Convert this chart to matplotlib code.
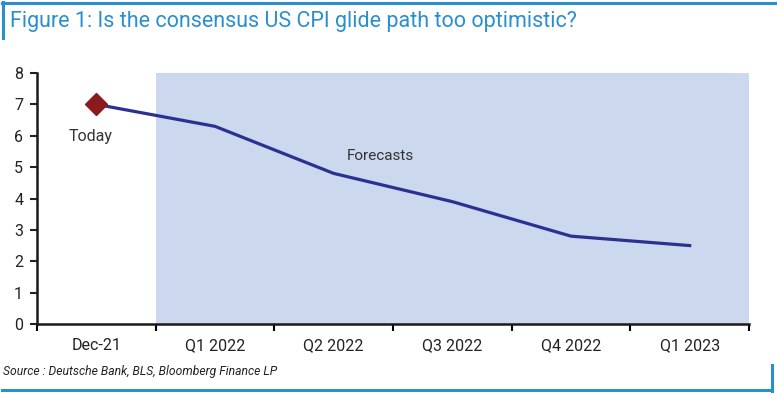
import matplotlib.pyplot as plt
import numpy as np
from matplotlib.lines import Line2D

# Chart data.
categories = ["Dec-21", "Q1 2022", "Q2 2022", "Q3 2022", "Q4 2022", "Q1 2023"]
cpi_path = [7.0, 6.3, 4.8, 3.9, 2.8, 2.5]
y_ticks = [0, 1, 2, 3, 4, 5, 6, 7, 8]

title = "Figure 1: Is the consensus US CPI glide path too optimistic?"
source = "Source : Deutsche Bank, BLS, Bloomberg Finance LP"

blue_frame = "#2a8fcf"
line_col = "#2b3190"
diamond_col = "#8b1a1f"
shade_col = "#cbd8ee"

plt.rcParams['font.family'] = ['Roboto', 'DejaVu Sans']

fig = plt.figure(figsize=(7.77, 3.95), dpi=100)
ax = fig.add_axes([0.0476, 0.1797, 0.9164, 0.6355])

x = np.arange(len(categories))

# Forecast shading from the first forecast boundary to the end.
ax.axvspan(0.5, len(categories) - 0.5, color=shade_col, lw=0, zorder=0)

ax.plot(x, cpi_path, color=line_col, lw=2.3, zorder=2)
ax.plot(x[0], cpi_path[0], marker='D', color=diamond_col, markersize=11,
        zorder=3, lw=0)

ax.text(-0.05, 5.97, "Today", ha='center', va='center', fontsize=11.5,
        color='#333333')
ax.text(2.39, 5.35, "Forecasts", ha='center', va='center', fontsize=11,
        color='#333333')

ax.set_xlim(-0.5, len(categories) - 0.5)
ax.set_ylim(0, 8)
ax.set_yticks(y_ticks)
ax.tick_params(axis='y', labelsize=11.5, length=5, width=1.5, direction='out',
               pad=5, colors='#222222')

# Category labels between boundary ticks.
ax.set_xticks(np.arange(len(categories) + 1) - 0.5)
ax.set_xticklabels([])
ax.set_xticks(x, minor=True)
ax.set_xticklabels(categories, minor=True)
ax.tick_params(axis='x', which='major', length=5, width=1.5, direction='out')
ax.tick_params(axis='x', which='minor', length=0, labelsize=11.5, pad=10,
               colors='#222222')

for side in ['top', 'right']:
    ax.spines[side].set_visible(False)
for side in ['left', 'bottom']:
    ax.spines[side].set_linewidth(1.8)
    ax.spines[side].set_color('#1a1a1a')

# Title and source.
fig.text(10 / 777, 1 - 21 / 395, title, fontsize=15.5, color=blue_frame,
         ha='left', va='center')
fig.text(3 / 777, 1 - 372 / 395, source, fontsize=8.7, style='italic',
         color='#222222', ha='left', va='center')

# Blue frame pieces.
W, H = 777.0, 395.0
def frame_line(xs, ys, lw):
    fig.add_artist(Line2D([v / W for v in xs], [1 - v / H for v in ys],
                          color=blue_frame, lw=lw, transform=fig.transFigure))

frame_line([2, 777], [3, 3], 2.2)
frame_line([2.5, 2.5], [2, 38], 2.2)
frame_line([2, 771.5], [390, 390], 2.2)
frame_line([771.5, 771.5], [365, 391], 2.2)

fig.savefig("out.png", dpi=100)
